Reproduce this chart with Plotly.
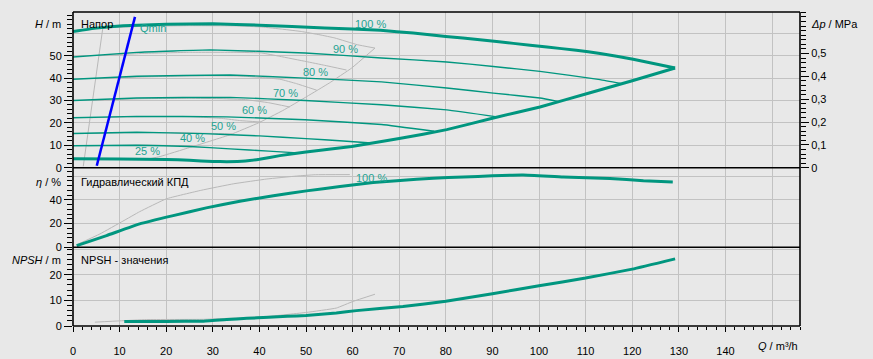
import plotly.graph_objects as go

# ---------------- data ----------------
# Head curves (Q in m3/h, H in m) - speed percentages
q100 = [0, 5, 10.8, 20, 30, 40, 54, 66, 73, 80, 87.3, 94.5, 101.7, 108, 113.1, 120.2, 129.2]
h100 = [60.8, 62.3, 63.4, 64.0, 64.3, 63.6, 62.4, 61.3, 60.1, 58.6, 57.1, 55.5, 53.9, 52.4, 51.0, 48.4, 44.5]
q90 = [0, 13.7, 29.4, 49.8, 66.2, 80.2, 90.2, 100.2, 113.1, 117.5]
h90 = [49.4, 51.5, 52.6, 51.2, 49.0, 47.2, 45.2, 43.0, 39.3, 37.6]
q80 = [0, 13.7, 33.7, 49.8, 66.2, 80.2, 90.2, 100.2, 104]
h80 = [39.5, 40.8, 41.4, 40.0, 38.3, 35.6, 33.3, 31.1, 29.6]
q70 = [0, 13.7, 33.7, 49.8, 66.2, 80.2, 91]
h70 = [30.0, 31.1, 31.4, 30.0, 28.1, 25.8, 22.7]
q60 = [0, 13.7, 33.0, 49.8, 66.2, 77.5]
h60 = [22.3, 22.9, 22.7, 21.4, 19.3, 16.3]
q50 = [0, 13.7, 28, 40, 50, 58, 64]
h50 = [15.3, 15.8, 15.2, 14.2, 13.0, 11.9, 11.0]
q40 = [0, 13.7, 25, 33.7, 42, 49]
h40 = [9.8, 10.0, 9.5, 8.4, 7.4, 6.5]
# lower thick boundary (25 % curve + limit curve)
q_low = [0, 10, 20, 25, 30, 33, 37, 40, 44.4, 50, 59.8, 66.2, 70, 80.2, 90.2, 100.2, 110.2, 120, 129.2]
h_low = [4.0, 3.9, 3.7, 3.3, 2.8, 2.7, 3.0, 3.8, 5.4, 7.0, 9.5, 11.7, 13.0, 17.0, 22.2, 27.1, 33.0, 38.8, 44.5]

# grey comparison curves (head)
qg_min = [2.2, 6.4]
hg_min = [0.6, 62.4]
qg100 = [6.4, 15, 25, 35, 40.5, 45, 49, 53, 56.2, 61, 64.8]
hg100 = [62.4, 63.1, 63.4, 63.3, 62.8, 61.8, 60.8, 59.3, 57.9, 54.9, 53.4]
qg90 = [5.6, 15, 25, 35, 40.5, 44.4, 50, 54, 58.7]
hg90 = [50.0, 51.0, 51.5, 51.5, 51.2, 49.7, 47.4, 45.7, 43.6]
qg80 = [4.9, 15, 25, 32, 37, 44.4, 48, 52.3]
hg80 = [39.7, 40.5, 41.0, 41.0, 40.8, 39.5, 37.5, 34.6]
qg70 = [4.3, 15, 25, 32, 37, 42, 46.5]
hg70 = [30.0, 30.8, 31.0, 30.8, 30.4, 29.0, 27.1]
qg60 = [3.8, 15, 25, 32, 36, 40.3]
hg60 = [22.3, 22.8, 22.8, 22.0, 21.0, 20.4]
qg50 = [3.5, 15, 25, 30, 34.2]
hg50 = [15.3, 15.7, 15.5, 15.3, 15.1]
qg40 = [3.1, 15, 22, 26.5]
hg40 = [9.8, 10.1, 9.9, 9.7]
qg25 = [2.6, 10, 16]
hg25 = [3.9, 3.9, 3.8]
qg_lim = [16, 18.7, 25, 33.7, 39.8, 45, 50.2, 55, 59.8, 64.8]
hg_lim = [3.8, 5.0, 9.0, 14.7, 20.0, 25.5, 31.8, 37.8, 44.5, 53.4]

# Qmin line
q_qmin = [5.1, 13.3]
h_qmin = [0.9, 67.3]

# efficiency
q_eta = [0.8, 7.2, 14.3, 21.5, 28.6, 35.8, 43, 50.1, 57.3, 64.4, 70.2, 77.3, 83.8, 90, 96.6, 105.2, 115.2, 122.4, 128.7]
eta = [1.4, 9.9, 19.7, 26.7, 33.2, 38.8, 43.4, 47.5, 51.2, 54.5, 56.3, 58.2, 59.1, 60.2, 60.8, 59.1, 58.0, 56.0, 54.9]
q_eta_g = [0.7, 5.8, 10.7, 14.3, 20, 27.5, 34.5, 41.6, 48, 52, 59.4]
eta_g = [2.0, 11.3, 22.0, 30.0, 40.8, 48.0, 53.5, 57.5, 60.0, 61.1, 61.2]

# NPSH
q_npsh = [11, 20, 28, 33, 37.3, 42, 46, 50, 56.5, 60.8, 70.8, 80, 90, 100, 110, 120, 129.2]
npsh = [1.8, 1.8, 1.9, 2.5, 3.0, 3.4, 3.8, 4.1, 5.1, 6.0, 7.6, 9.7, 12.6, 15.7, 18.7, 22.2, 26.2]
q_npsh_g = [4.7, 10, 15.8, 28, 41.6, 50.1, 56.5, 60.1, 64.8]
npsh_g = [1.5, 2.0, 2.5, 2.6, 3.7, 5.3, 7.0, 9.6, 12.4]

# curve labels
pct_text = ["100 %", "90 %", "80 %", "70 %", "60 %", "50 %", "40 %", "25 %"]
pct_q = [63.8, 58.4, 52.0, 45.5, 38.9, 32.3, 25.7, 16.0]
pct_h = [64.3, 53.0, 42.9, 33.5, 25.6, 18.8, 13.2, 7.3]

x_ticks = [0, 10, 20, 30, 40, 50, 60, 70, 80, 90, 100, 110, 120, 130, 140, 150]
h_ticks = [0, 10, 20, 30, 40, 50, 60]
eta_ticks = [0, 20, 40, 60]
npsh_ticks = [0, 10, 20, 30]
dp_ticks = [0, 0.1, 0.2, 0.3, 0.4, 0.5]
dp_text = ["0", "0,1", "0,2", "0,3", "0,4", "0,5"]

# ---------------- styling ----------------
TEAL = "#00967f"
TEAL_TXT = "#1fa392"
GREY = "#b8b8b8"
BLUE = "#0000ff"
BG = "#e8e8e8"
GRID = "#c2c2c2"
FONT = "Liberation Sans, Arial, sans-serif"

H_MAX = 69.5
ETA_MAX = 67.0
NPSH_MAX = 30.7
X_MAX = 156
D1 = 0.2506
D2 = 0.5041

fig = go.Figure()


def add(q, v, ya, color, width):
    fig.add_trace(go.Scatter(x=q, y=v, xaxis="x", yaxis=ya, mode="lines",
                             line=dict(color=color, width=width, shape="spline", smoothing=0.3),
                             hoverinfo="skip", showlegend=False))


# grey curves first
for q, h in [(qg_min, hg_min), (qg100, hg100), (qg90, hg90), (qg80, hg80), (qg70, hg70),
             (qg60, hg60), (qg50, hg50), (qg40, hg40), (qg25, hg25), (qg_lim, hg_lim)]:
    add(q, h, "y3", GREY, 1)
add(q_eta_g, eta_g, "y2", GREY, 1)
add(q_npsh_g, npsh_g, "y", GREY, 1)

# teal curves
for q, h in [(q90, h90), (q80, h80), (q70, h70), (q60, h60), (q50, h50), (q40, h40)]:
    add(q, h, "y3", TEAL, 1.4)
add(q100, h100, "y3", TEAL, 3)
add(q_low, h_low, "y3", TEAL, 3)
add(q_eta, eta, "y2", TEAL, 3)
add(q_npsh, npsh, "y", TEAL, 3)
# Qmin
fig.add_trace(go.Scatter(x=q_qmin, y=h_qmin, xaxis="x", yaxis="y3", mode="lines",
                         line=dict(color=BLUE, width=2.5), hoverinfo="skip", showlegend=False))
# invisible trace for right axis
fig.add_trace(go.Scatter(x=[0], y=[0], xaxis="x", yaxis="y4", mode="markers",
                         marker=dict(opacity=0), hoverinfo="skip", showlegend=False))

tickfont = dict(family=FONT, size=11, color="black")


def minor_vals(top, step):
    vals = []
    v = 0.0
    while v <= top + 1e-9:
        vals.append(round(v, 4))
        v += step
    return vals


def yax(domain, rng, tvals, step):
    return dict(domain=domain, range=rng, anchor="x", tickmode="array", tickvals=tvals,
                ticktext=[str(t) for t in tvals[:-1]] + [""],
                ticks="outside", ticklen=8, tickwidth=1, tickcolor="black",
                minor=dict(tickmode="array", tickvals=minor_vals(rng[1], step), ticks="outside",
                           ticklen=5, tickwidth=1, tickcolor="black", showgrid=False),
                showgrid=True, gridcolor=GRID, gridwidth=1, zeroline=False, showline=False,
                tickfont=tickfont, fixedrange=True, automargin=False)


fig.update_layout(
    width=873, height=359,
    margin=dict(l=73, r=73, t=12, b=33, autoexpand=False),
    paper_bgcolor=BG, plot_bgcolor=BG,
    font=dict(family=FONT, size=11, color="black"),
    separators=", ",
    xaxis=dict(domain=[0, 1], range=[0, X_MAX], anchor="y", tickmode="array",
               tickvals=x_ticks, ticktext=[str(t) for t in x_ticks[:-1]] + [""],
               ticks="outside", ticklen=5, tickwidth=1, tickcolor="black",
               ticklabelstandoff=10,
               minor=dict(tickmode="array", tickvals=minor_vals(X_MAX, 2), ticks="outside",
                          ticklen=3, tickwidth=1, tickcolor="black", showgrid=False),
               showgrid=True, gridcolor=GRID, gridwidth=1, zeroline=False, showline=False,
               tickfont=tickfont, fixedrange=True, automargin=False),
    yaxis=yax([0, D1], [0, NPSH_MAX], npsh_ticks, 2),
    yaxis2=yax([D1, D2], [0, ETA_MAX], eta_ticks, 4),
    yaxis3=yax([D2, 1], [0, H_MAX], h_ticks, 2),
    yaxis4=dict(overlaying="y3", side="right", anchor="x",
                range=[0, H_MAX * 1000 * 9.81 / 1e6],
                tickmode="array", tickvals=dp_ticks, ticktext=dp_text,
                ticks="outside", ticklen=8, tickwidth=1, tickcolor="black",
                minor=dict(tickmode="array", tickvals=minor_vals(0.68, 0.02), ticks="outside",
                           ticklen=5, tickwidth=1, tickcolor="black", showgrid=False),
                showgrid=False, zeroline=False, showline=False, tickfont=tickfont,
                fixedrange=True, automargin=False),
)

# panel borders
shapes = []
for yy in [0, D1, D2, 1]:
    shapes.append(dict(type="line", xref="paper", yref="paper", x0=0, x1=1, y0=yy, y1=yy,
                       line=dict(color="black", width=1.6), layer="above"))
for xx in [0, 1]:
    shapes.append(dict(type="line", xref="paper", yref="paper", x0=xx, x1=xx, y0=0, y1=1,
                       line=dict(color="black", width=1.6), layer="above"))
fig.update_layout(shapes=shapes)

ann = []
for t, q, h in zip(pct_text, pct_q, pct_h):
    ann.append(dict(x=q, y=h, xref="x", yref="y3", text=t, showarrow=False,
                    font=dict(color=TEAL_TXT, size=11), xanchor="center", yanchor="middle"))
ann.append(dict(x=64.0, y=58.0, xref="x", yref="y2", text="100 %", showarrow=False,
                font=dict(color=TEAL_TXT, size=11), xanchor="center", yanchor="middle"))
ann.append(dict(x=14.0, y=62.4, xref="x", yref="y3", text="Qmin", showarrow=False,
                font=dict(color=TEAL_TXT, size=11), xanchor="left", yanchor="middle"))
# panel titles
ann.append(dict(x=0, y=64.3, xref="paper", yref="y3", text="Напор", showarrow=False,
                xanchor="left", yanchor="middle", xshift=6, font=dict(size=11)))
ann.append(dict(x=0, y=54.9, xref="paper", yref="y2", text="Гидравлический КПД", showarrow=False,
                xanchor="left", yanchor="middle", xshift=6, font=dict(size=11)))
ann.append(dict(x=0, y=25.6, xref="paper", yref="y", text="NPSH - значения", showarrow=False,
                xanchor="left", yanchor="middle", xshift=6, font=dict(size=11)))
# axis titles
ann.append(dict(x=0, y=64.3, xref="paper", yref="y3", text="<i>H</i> / m", showarrow=False,
                xanchor="right", yanchor="middle", xshift=-10, font=dict(size=11)))
ann.append(dict(x=0, y=54.9, xref="paper", yref="y2", text="<i>η</i> / %", showarrow=False,
                xanchor="right", yanchor="middle", xshift=-10, font=dict(size=11)))
ann.append(dict(x=0, y=25.6, xref="paper", yref="y", text="<i>NPSH</i> / m", showarrow=False,
                xanchor="right", yanchor="middle", xshift=-10, font=dict(size=11)))
ann.append(dict(x=1, y=64.3, xref="paper", yref="y3", text="<i>Δp</i> / MPa", showarrow=False,
                xanchor="left", yanchor="middle", xshift=9, font=dict(size=11)))
ann.append(dict(x=1, y=0, xref="paper", yref="paper", text="<i>Q</i> / m³/h", showarrow=False,
                xanchor="right", yanchor="middle", yshift=-20, font=dict(size=11)))
fig.update_layout(annotations=ann)

fig.write_html("out.html", config={"displayModeBar": False},
               post_script="document.body.style.margin='0';document.body.style.background='%s';" % BG)
